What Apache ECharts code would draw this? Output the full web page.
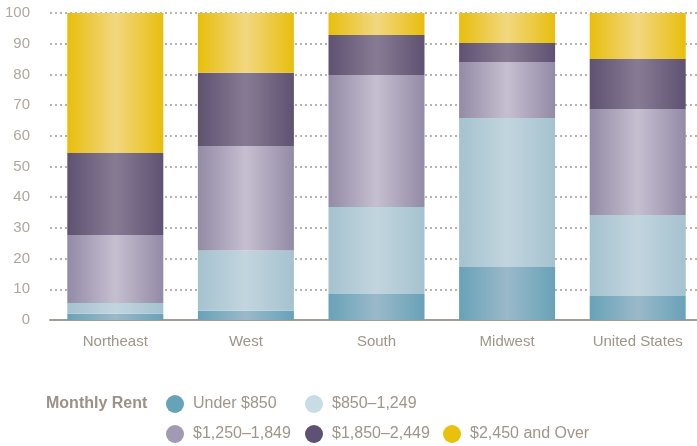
<!DOCTYPE html>
<html><head><meta charset="utf-8">
<script src="https://cdn.jsdelivr.net/npm/echarts@6/dist/echarts.min.js"></script>
<style>html,body{margin:0;padding:0;background:#fff}#c{width:697px;height:446px}</style>
</head><body><div id="c"></div>
<script>
const categories = ["Northeast", "West", "South", "Midwest", "United States"];
const seriesNames = ["Under $850", "$850\u20131,249", "$1,250\u20131,849", "$1,850\u20132,449", "$2,450 and Over"];
const under850 = [2.0, 3.0, 8.5, 17.3, 7.8];
const r850to1249 = [3.5, 19.6, 28.3, 48.5, 26.4];
const r1250to1849 = [22.2, 34.1, 43.0, 18.2, 34.5];
const r1850to2449 = [26.7, 23.8, 13.0, 6.2, 16.3];
const over2450 = [45.6, 19.5, 7.2, 9.8, 15.0];
const yTicks = [0, 10, 20, 30, 40, 50, 60, 70, 80, 90, 100];

const values = [under850, r850to1249, r1250to1849, r1850to2449, over2450];
const edge = ["#68a2b7", "#a5c2cf", "#938aa6", "#5f5272", "#e8be0c"];
const mid  = ["#9ab9ca", "#c2d5df", "#c6bfd0", "#877b94", "#f2d780"];
const solid = ["#67a3b8", "#c8dce6", "#a299b3", "#5e5173", "#e9c10a"];
const FONT = '"Liberation Sans",Arial,sans-serif';
const TXT = "#a09589";

const series = values.map((v, i) => ({
  name: seriesNames[i], type: 'bar', stack: 'a', data: v, barWidth: 96,
  itemStyle: { color: new echarts.graphic.LinearGradient(0, 0, 1, 0, [
    {offset: 0, color: edge[i]}, {offset: 0.5, color: mid[i]}, {offset: 1, color: edge[i]}]) }
}));

const legendPos = [[166, 395], [305, 395], [166, 425], [305, 425], [443, 425]];
const legends = seriesNames.map((n, i) => ({
  data: [{name: n, itemStyle: {color: solid[i]}}],
  left: legendPos[i][0], top: legendPos[i][1], padding: 0,
  icon: 'circle', itemWidth: 18, itemHeight: 18, itemGap: 8,
  textStyle: {color: TXT, fontSize: 16, fontFamily: FONT, padding: [0, 0, 0, 4]}, selectedMode: false
}));

const chart = echarts.init(document.getElementById('c'), null, {renderer: 'canvas'});
chart.setOption({
  animation: false,
  title: {text: 'Monthly Rent', left: 46, top: 396, padding: 0, textStyle: {color: '#9b9187', fontSize: 16, fontWeight: 'bold', fontFamily: FONT}},
  legend: legends,
  grid: {left: 50, width: 653, top: 13, bottom: 126, outerBoundsMode: 'none'},
  xAxis: {type: 'category', data: categories,
    axisLine: {lineStyle: {color: '#a39c92', width: 2}}, axisTick: {show: false},
    axisLabel: {color: TXT, fontSize: 15, fontFamily: FONT, margin: 14, interval: 0}},
  yAxis: {type: 'value', min: 0, max: 100, interval: 10,
    axisLabel: {color: '#b0a79d', fontSize: 15, fontFamily: FONT, margin: 20,
      formatter: v => yTicks.includes(v) ? String(v) : ''},
    axisLine: {show: false}, axisTick: {show: false},
    splitLine: {lineStyle: {color: '#a39a90', type: [2, 3], width: 1.5}}},
  series: series
});
</script></body></html>
